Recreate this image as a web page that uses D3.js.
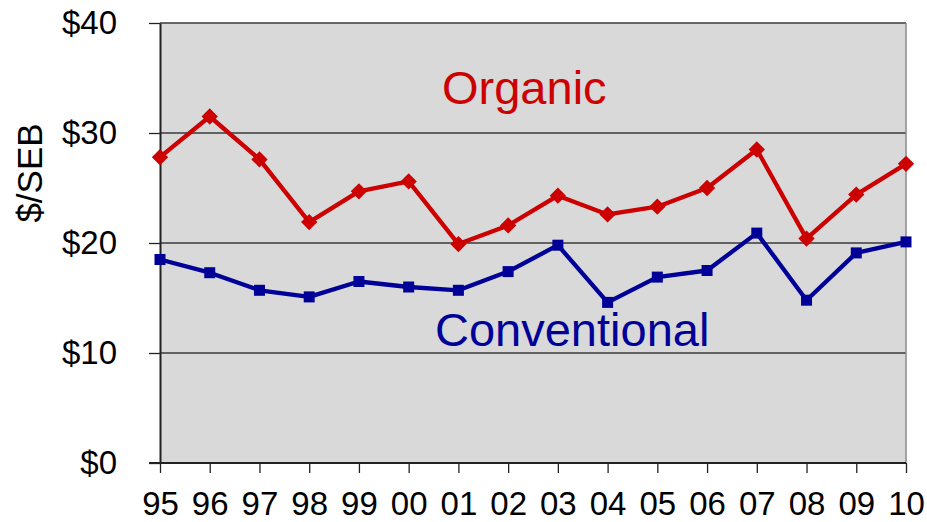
<!DOCTYPE html>
<html>
<head>
<meta charset="utf-8">
<script src="https://cdn.jsdelivr.net/npm/d3@7/dist/d3.min.js"></script>
<style>
  html, body { margin: 0; padding: 0; background: #fff; }
  svg { display: block; }
  text { font-family: "Liberation Sans", Arial, sans-serif; }
</style>
</head>
<body>
<svg id="chart" width="927" height="522"></svg>
<script>
const years = ["95","96","97","98","99","00","01","02","03","04","05","06","07","08","09","10"];
const organic = [27.8, 31.5, 27.6, 21.9, 24.7, 25.6, 19.9, 21.6, 24.3, 22.6, 23.3, 25.0, 28.5, 20.4, 24.4, 27.2];
const conventional = [18.5, 17.3, 15.7, 15.1, 16.5, 16.0, 15.7, 17.4, 19.8, 14.6, 16.9, 17.5, 20.9, 14.8, 19.1, 20.1];
const yTicks = [0, 10, 20, 30, 40];
const yTickLabels = ["$0", "$10", "$20", "$30", "$40"];
const yTitle = "$/SEB";
const seriesNames = ["Organic", "Conventional"];

const svg = d3.select("#chart");
const L = 160, R = 906, T = 23, B = 463;

const x = d3.scalePoint().domain(years).range([L, R]);
const y = d3.scaleLinear().domain([0, 40]).range([B, T]);

// plot background
svg.append("rect").attr("x", L).attr("y", T).attr("width", R - L).attr("height", B - T)
  .attr("fill", "#d9d9d9");

// gridlines
svg.append("g").selectAll("line").data(yTicks.filter(d => d > 0)).join("line")
  .attr("x1", L).attr("x2", R)
  .attr("y1", d => y(d)).attr("y2", d => y(d))
  .attr("stroke", "#3a3a3a").attr("stroke-width", 1.3);

// right border
svg.append("line").attr("x1", R).attr("x2", R).attr("y1", T).attr("y2", B)
  .attr("stroke", "#8a8a8a").attr("stroke-width", 1.5);

// y axis
const yAxis = d3.axisLeft(y).tickValues(yTicks)
  .tickFormat((d, i) => yTickLabels[i]).tickSize(11).tickSizeOuter(0).tickPadding(32);
const gy = svg.append("g").attr("transform", `translate(${L},0)`).call(yAxis);
gy.select(".domain").attr("stroke", "#222").attr("stroke-width", 2);
gy.selectAll(".tick line").attr("stroke", "#222").attr("stroke-width", 1.3);
gy.selectAll(".tick text").attr("font-size", 33).attr("fill", "#000")
  .attr("font-family", "'Liberation Sans', Arial, sans-serif");

// x axis
const xAxis = d3.axisBottom(x).tickSize(10).tickSizeOuter(0).tickPadding(19);
const gx = svg.append("g").attr("transform", `translate(0,${B})`).call(xAxis);
gx.select(".domain").attr("stroke", "#222").attr("stroke-width", 2)
  .attr("d", `M${L - 11},0H${R}`);
gx.selectAll(".tick line").attr("stroke", "#222").attr("stroke-width", 1.3);
gx.selectAll(".tick text").attr("font-size", 33).attr("fill", "#000")
  .attr("font-family", "'Liberation Sans', Arial, sans-serif");

// y title
svg.append("text").attr("transform", "translate(42,173) rotate(-90)")
  .attr("text-anchor", "middle").attr("font-size", 35).attr("fill", "#000")
  .text(yTitle);

const line = d3.line().x((d, i) => x(years[i])).y(d => y(d));

// organic
const red = "#cc0000";
svg.append("path").datum(organic).attr("d", line)
  .attr("fill", "none").attr("stroke", red).attr("stroke-width", 4.3).attr("stroke-linejoin", "round");
svg.append("g").selectAll("path").data(organic).join("path")
  .attr("d", d3.symbol(d3.symbolDiamond2, 170)())
  .attr("transform", (d, i) => `translate(${x(years[i])},${y(d)})`)
  .attr("fill", red);

// conventional
const blue = "#000099";
svg.append("path").datum(conventional).attr("d", line)
  .attr("fill", "none").attr("stroke", blue).attr("stroke-width", 4.3).attr("stroke-linejoin", "round");
svg.append("g").selectAll("rect").data(conventional).join("rect")
  .attr("x", (d, i) => x(years[i]) - 5.5).attr("y", d => y(d) - 5.5)
  .attr("width", 11).attr("height", 11).attr("fill", blue);

// series labels
svg.append("text").attr("x", 442).attr("y", 104).attr("font-size", 47)
  .attr("fill", red).text(seriesNames[0]);
svg.append("text").attr("x", 435).attr("y", 346).attr("font-size", 47)
  .attr("fill", blue).text(seriesNames[1]);
</script>
</body>
</html>
